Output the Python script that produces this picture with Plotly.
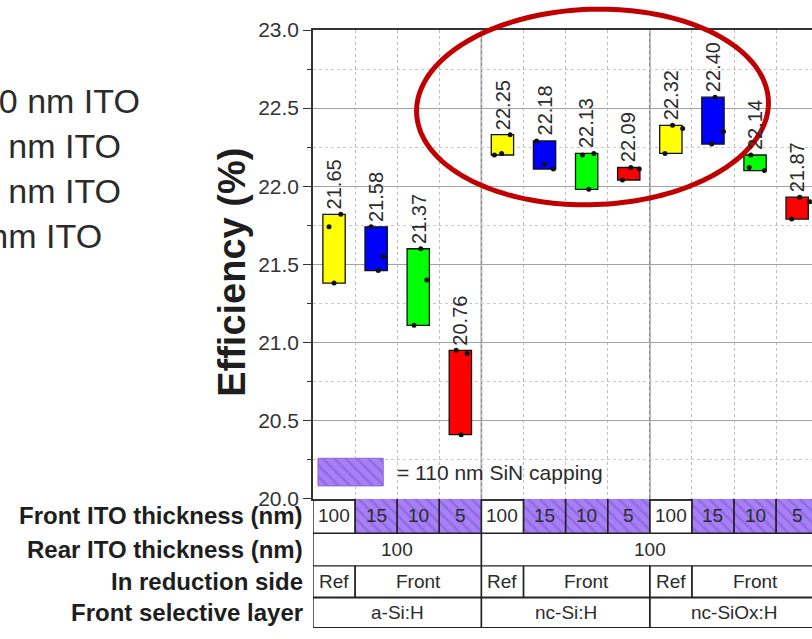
import numpy as np
import plotly.graph_objects as go

# ---------------- data ----------------
front_ito = ["100", "15", "10", "5", "100", "15", "10", "5", "100", "15", "10", "5"]
box_colors = ["#ffff00", "#0000ff", "#00ff00", "#ff0000"] * 3
# three cells per condition (efficiency, %)
efficiency = [
    [21.82, 21.74, 21.38],
    [21.74, 21.55, 21.46],
    [21.60, 21.40, 21.11],
    [20.95, 20.93, 20.41],
    [22.33, 22.21, 22.20],
    [22.29, 22.14, 22.11],
    [22.21, 22.20, 21.98],
    [22.12, 22.11, 22.04],
    [22.39, 22.37, 22.21],
    [22.57, 22.35, 22.27],
    [22.20, 22.12, 22.10],
    [21.93, 21.90, 21.79],
]
rear_ito = [("100", 0, 3), ("100", 4, 11)]
reduction_side = [("Ref", 0, 0), ("Front", 1, 3), ("Ref", 4, 4), ("Front", 5, 7),
                  ("Ref", 8, 8), ("Front", 9, 11)]
selective_layer = [("a-Si:H", 0, 3), ("nc-Si:H", 4, 7), ("nc-SiOx:H", 8, 11)]
row_titles = ["Front ITO thickness (nm)", "Rear ITO thickness (nm)",
              "In reduction side", "Front selective layer"]
ito_legend = ["100 nm ITO", "15 nm ITO", "10 nm ITO", "5 nm ITO"]
y_tick_vals = [20.0, 20.5, 21.0, 21.5, 22.0, 22.5, 23.0]

# ---------------- layout constants ----------------
W, H = 812, 639
ML, MR, MT, MB = 313, 0, 30, 3
PW, PH = W - ML - MR, H - MT - MB
COL_W = 42.1                      # px per condition column
TABLE_H = 131                     # px height of the table under the plot
X_RANGE = [-0.5, -0.5 + PW / COL_W]
split = TABLE_H / PH
row_edges = [131, 96, 63, 31, 0]  # table rows, y2 units (= px)

FONT = "Liberation Sans, Arial, sans-serif"
TXT = "#2b2b2b"
PURPLE = "#a680f4"
PURPLE_DARK = "#7a52d6"

# point jitter inside each box (ordered high, mid, low)
jitter = [
    [0.16, -0.12, 0.0], [-0.12, 0.17, 0.05], [0.06, 0.2, -0.1], [-0.1, 0.16, 0.02],
    [0.18, -0.02, -0.19], [-0.19, 0.0, 0.21], [0.17, -0.1, 0.05], [0.05, 0.25, -0.15],
    [0.04, 0.28, -0.14], [0.05, 0.25, -0.03], [-0.1, -0.14, 0.22], [0.06, 0.3, -0.13],
]

cols = list(range(len(efficiency)))
lo = [min(v) for v in efficiency]
hi = [max(v) for v in efficiency]
mean = [round(float(np.mean(v)), 2) for v in efficiency]

fig = go.Figure()

# range boxes
fig.add_trace(go.Bar(
    x=cols, base=lo, y=[h - l for h, l in zip(hi, lo)], width=0.53,
    marker=dict(color=box_colors, line=dict(color="#111", width=1.3)),
    xaxis="x", yaxis="y", hoverinfo="skip", showlegend=False))

# individual cells
px_, py_ = [], []
for i, vals in enumerate(efficiency):
    for j, v in enumerate(sorted(vals, reverse=True)):
        px_.append(i + jitter[i][j])
        py_.append(v)
fig.add_trace(go.Scatter(
    x=px_, y=py_, mode="markers",
    marker=dict(color="#111", size=5), xaxis="x", yaxis="y",
    hoverinfo="skip", showlegend=False))

# capping swatch inside the plot
fig.add_trace(go.Bar(
    x=[0.393], base=[20.082], y=[0.177], width=1.55,
    marker=dict(color=PURPLE, line=dict(color="#8a6ad0", width=1),
                pattern=dict(shape="\\", fgcolor=PURPLE_DARK, bgcolor=PURPLE,
                             size=8, solidity=0.3)),
    xaxis="x", yaxis="y", hoverinfo="skip", showlegend=False))

# hatched front ITO cells in the table
capped = [i for i in cols if front_ito[i] != "100"]
fig.add_trace(go.Bar(
    x=capped, base=[row_edges[1]] * len(capped),
    y=[row_edges[0] - row_edges[1]] * len(capped), width=1.0,
    marker=dict(color=PURPLE, line=dict(width=0),
                pattern=dict(shape="\\", fgcolor=PURPLE_DARK, bgcolor=PURPLE,
                             size=8, solidity=0.3)),
    xaxis="x2", yaxis="y2", hoverinfo="skip", showlegend=False))

shapes = []
annotations = []

# group separators in the plot
for b in [3.5, 7.5]:
    shapes.append(dict(type="line", xref="x", yref="y", x0=b, x1=b, y0=20, y1=23,
                       line=dict(color="#8a8a8a", width=1.6), layer="below"))

# table grid
table_rows = [[(front_ito[i], i, i) for i in cols], rear_ito, reduction_side, selective_layer]
for r, spans in enumerate(table_rows):
    top, bot = row_edges[r], row_edges[r + 1]
    for label, a, b in spans:
        for xe in (a - 0.5, b + 0.5):
            shapes.append(dict(type="line", xref="x2", yref="y2", x0=xe, x1=xe,
                               y0=bot, y1=top, line=dict(color="#222", width=1.4)))
        annotations.append(dict(xref="x2", yref="y2", x=(a + b) / 2, y=(top + bot) / 2,
                                text=label, showarrow=False,
                                font=dict(family=FONT, size=19, color=TXT)))
    shapes.append(dict(type="line", xref="x2", yref="y2", x0=-0.5, x1=12, y0=bot, y1=bot,
                       line=dict(color="#222", width=2 if r >= 2 else 1.4)))
    annotations.append(dict(xref="paper", yref="y2", x=0, xshift=-8, xanchor="right",
                            yanchor="middle", y=(top + bot) / 2,
                            text="<b>%s</b>" % row_titles[r],
                            showarrow=False, font=dict(family=FONT, size=24, color="#1e1e1e")))

# mean value labels
for i in cols:
    annotations.append(dict(xref="x", yref="y", x=i, y=hi[i], yanchor="bottom", yshift=3,
                            text="%.2f" % mean[i], textangle=-90, showarrow=False,
                            font=dict(family=FONT, size=20, color=TXT)))

# capping swatch text
annotations.append(dict(xref="x", yref="y", x=1.167, xshift=12, xanchor="left", y=20.17,
                        text="= 110 nm SiN capping", showarrow=False,
                        font=dict(family=FONT, size=21, color=TXT)))

# y title
annotations.append(dict(xref="paper", yref="y", x=0, xshift=-81, xanchor="center",
                        yanchor="middle", y=21.446,
                        text="<b>Efficiency (%)</b>", textangle=-90, showarrow=False,
                        font=dict(family=FONT, size=38, color="#1e1e1e")))

# ITO legend (colour keys sit left of the page)
for k, t in enumerate(ito_legend):
    yp = (H - MB - (102 + 45.5 * k)) / PH
    annotations.append(dict(xref="paper", yref="paper", x=0, xshift=-(ML + 41),
                            xanchor="left", yanchor="middle", y=yp, text=t, showarrow=False,
                            font=dict(family=FONT, size=34, color=TXT)))

# highlight ellipse (slightly tilted)
cx, cy, rx, ry, tilt = 592.5, 108, 176, 99, np.deg2rad(2.0)
t = np.linspace(0, 2 * np.pi, 181)
ex = cx + rx * np.cos(t) * np.cos(tilt) + ry * np.sin(t) * np.sin(tilt)
ey = cy - rx * np.cos(t) * np.sin(tilt) + ry * np.sin(t) * np.cos(tilt)
path = "M " + " L ".join("%.5f,%.5f" % ((x - ML) / PW, (H - MB - y) / PH)
                         for x, y in zip(ex, ey)) + " Z"
shapes.append(dict(type="path", xref="paper", yref="paper", path=path,
                   line=dict(color="#c00000", width=5)))

fig.update_layout(
    width=W, height=H,
    margin=dict(l=ML, r=MR, t=MT, b=MB),
    paper_bgcolor="white", plot_bgcolor="white",
    barmode="overlay", showlegend=False,
    font=dict(family=FONT, color=TXT),
    xaxis=dict(domain=[0, 1], anchor="y", range=X_RANGE,
               tickvals=[i + 0.5 for i in range(11)], showticklabels=False, ticks="",
               showgrid=True, gridcolor="#bdbdbd", griddash="dot", gridwidth=1,
               showline=True, linecolor="#333", linewidth=1.6, mirror=True, zeroline=False),
    yaxis=dict(domain=[split, 1], anchor="x", range=[20, 23],
               tickvals=y_tick_vals, ticktext=["%.1f" % v for v in y_tick_vals],
               ticks="outside", ticklen=8, tickwidth=1.4, tickcolor="#333",
               tickfont=dict(family=FONT, size=21, color="#333"),
               showgrid=True, gridcolor="#a3a3a3", gridwidth=1,
               minor=dict(dtick=0.25, ticks="outside", ticklen=4, tickcolor="#333",
                          showgrid=True, gridcolor="#c8c8c8", griddash="dot"),
               showline=True, linecolor="#333", linewidth=1.6, zeroline=False),
    xaxis2=dict(domain=[0, 1], anchor="y2", range=X_RANGE, visible=False),
    yaxis2=dict(domain=[0, split], anchor="x2", range=[0, TABLE_H], visible=False),
    shapes=shapes, annotations=annotations,
)

fig.write_html("out.html", config={"displayModeBar": False})
